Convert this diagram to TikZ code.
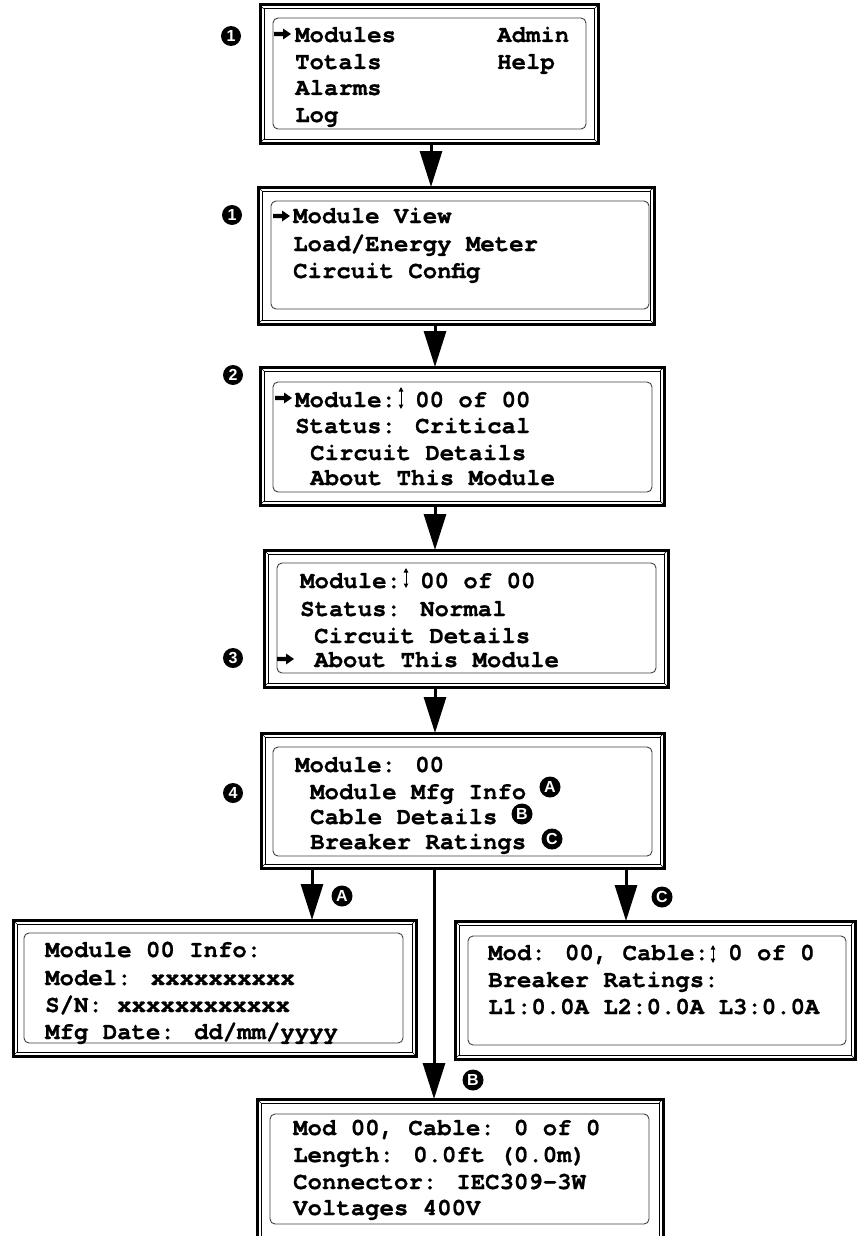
\documentclass[tikz,border=0pt]{standalone}
\usepackage{fontspec}
\usetikzlibrary{arrows.meta}
\newfontfamily\lcdf{texgyrecursor-bold.otf}[FakeBold=0.8]
\newfontfamily\bdgf{Liberation Sans}
\tikzset{
  frame/.style={draw, line width=3pt, inner sep=0pt, outer sep=0pt, rectangle},
  lcd/.style={draw=black!75, line width=0.9pt, rounded corners=5pt},
  txt/.style={font={\lcdf\fontsize{24}{24}\selectfont}, anchor=base west, inner sep=0pt},
  arr/.style={line width=3pt, -{Triangle[length=36pt,width=22pt]}},
  badge/.style={circle, fill=black, text=white, inner sep=0pt, minimum size=20pt, font={\bdgf\bfseries\fontsize{16}{16}\selectfont}},
  lbadge/.style={badge, minimum size=21pt, font={\bdgf\bfseries\fontsize{16}{16}\selectfont}},
  updown/.style={line width=1pt, {Triangle[length=4.5pt,width=4.5pt]}-{Triangle[length=4.5pt,width=4.5pt]}},
  pointer/.pic={\fill (-17,-2.2) -- (-8,-2.2) -- (-8,-5.5) -- (0,0) -- (-8,5.5) -- (-8,2.2) -- (-17,2.2) -- cycle;}
}
% name, x1, y1, x2, y2, ix1, iy1, ix2, iy2
\newcommand\scrn[9]{%
  \node[frame, minimum width={(#4-#2)*1pt}, minimum height={(#5-#3)*1pt}] (#1) at ({(#2+#4)/2},{(#3+#5)/2}) {};
  \draw[line width=1pt] ([shift={(4,4)}]#1.north west) rectangle ([shift={(-4,-4)}]#1.south east);
  \draw[line width=0.5pt] (#1.north west) -- ++(4,4) (#1.north east) -- ++(-4,4)
                          (#1.south west) -- ++(4,-4) (#1.south east) -- ++(-4,-4);
  \draw[lcd] (#6,#7) rectangle (#8,#9);
}
\newcommand\tl[4]{\node[txt] (#1) at (#2,#3) {#4};}
\begin{document}
\begin{tikzpicture}[x=1pt,y=-1pt]
\path[use as bounding box, clip] (0,0) rectangle (857,1236);
\fill[white] (0,0) rectangle (857,1236);

% screens
\scrn{s1}{260}{5}{598}{143}{273}{18}{586}{129}
\scrn{s2}{258}{187}{654}{324}{271}{201}{649}{309}
\scrn{s3}{260}{367}{664}{505}{273}{382}{652}{492}
\scrn{s4}{264}{550}{668}{687}{277}{563}{656}{673}
\scrn{s5}{261}{733}{664}{868}{273}{747}{652}{856}
\scrn{sA}{13}{920}{416}{1056}{24}{933}{403}{1043}
\scrn{sC}{455}{921}{855}{1059}{468}{936}{846}{1045}
\scrn{sB}{257}{1099}{663}{1242}{270}{1114}{649}{1224}

% texts s1
\tl{t11}{295}{42}{Modules}
\tl{t12}{295}{69}{Totals}
\tl{t13}{295}{95}{Alarms}
\tl{t14}{295}{122}{Log}
\tl{t15}{497}{42}{Admin}
\tl{t16}{497}{69}{Help}
\pic at (291,34) {pointer};
% s2
\tl{t21}{293}{223}{Module View}
\tl{t22}{293}{251}{Load/Energy Meter}
\tl{t23}{293}{278}{Circuit Config}
\pic at (290,216) {pointer};
% s3
\tl{t31}{295}{407}{Module: 00 of 00}
\tl{t32}{295}{433}{Status: Critical}
\tl{t33}{310}{460}{Circuit Details}
\tl{t34}{310}{485}{About This Module}
\pic at (292,398) {pointer};
\draw[updown] (401,387) -- (401,409);
% s4
\tl{t41}{300}{588}{Module: 00 of 00}
\tl{t42}{300}{616}{Status: Normal}
\tl{t43}{314}{643}{Circuit Details}
\tl{t44}{314}{667}{About This Module}
\pic at (294,659) {pointer};
\draw[updown] (406,568) -- (406,588);
% s5
\tl{t51}{295}{772}{Module: 00}
\tl{t52}{310}{799}{Module Mfg Info}
\tl{t53}{310}{824}{Cable Details}
\tl{t54}{310}{849}{Breaker Ratings}
\node[lbadge] (i1) at (550,787) {A};
\node[lbadge] (i2) at (522,814) {B};
\node[lbadge] (i3) at (552,839) {C};
% sA
\tl{tA1}{45}{957}{Module 00 Info:}
\tl{tA2}{45}{985}{Model: xxxxxxxxxx}
\tl{tA3}{45}{1012}{S/N: xxxxxxxxxxxx}
\tl{tA4}{45}{1039}{Mfg Date: dd/mm/yyyy}
% sC
\tl{tC1}{488}{960}{Mod: 00, Cable: 0 of 0}
\tl{tC2}{488}{987}{Breaker Ratings:}
\tl{tC3}{488}{1014}{L1:0.0A L2:0.0A L3:0.0A}
\draw[updown] (713,945) -- (713,963);
% sB
\tl{tB1}{293}{1135}{Mod 00, Cable: 0 of 0}
\tl{tB2}{293}{1162}{Length: 0.0ft (0.0m)}
\tl{tB3}{293}{1189}{Connector: IEC309-3W}
\tl{tB4}{293}{1215}{Voltages 400V}

% step badges
\node[badge] (b1) at (231,36) {1};
\node[badge] (b1b) at (232,215) {1};
\node[badge] (b2) at (233,375) {2};
\node[badge] (b3) at (233,658) {3};
\node[badge] (b4) at (233,793) {4};

% connectors
\coordinate (x12) at (431,0);
\coordinate (x23) at (435,0);
\coordinate (x34) at (435,0);
\coordinate (x45) at (435,0);
\coordinate (xA) at (312,0);
\coordinate (xB) at (434,0);
\coordinate (xC) at (626,0);
\draw[arr] (x12 |- s1.south) -- (x12 |- s2.north);
\draw[arr] (x23 |- s2.south) -- (x23 |- s3.north);
\draw[arr] (x34 |- s3.south) -- (x34 |- s4.north);
\draw[arr] (x45 |- s4.south) -- (x45 |- s5.north);
\draw[arr] (xA |- s5.south) -- (xA |- sA.north);
\draw[arr] (xB |- s5.south) -- (xB |- sB.north);
\draw[arr] (xC |- s5.south) -- (xC |- sC.north);
\node[lbadge] (lA) at (342,896) {A};
\node[lbadge] (lB) at (473,1080) {B};
\node[lbadge] (lC) at (662,897) {C};
\end{tikzpicture}
\end{document}
